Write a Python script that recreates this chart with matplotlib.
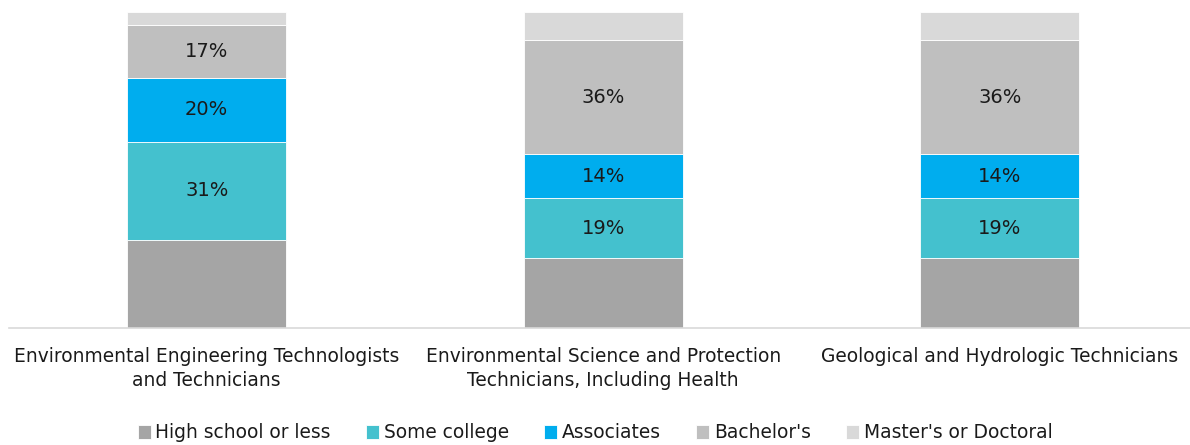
import matplotlib
matplotlib.use("Agg")
import matplotlib.pyplot as plt
import numpy as np

categories = ["Environmental Engineering Technologists\nand Technicians",
              "Environmental Science and Protection\nTechnicians, Including Health",
              "Geological and Hydrologic Technicians"]
series_names = ["High school or less", "Some college", "Associates", "Bachelor's", "Master's or Doctoral"]
high_school = [28, 22, 22]
some_college = [31, 19, 19]
associates = [20, 14, 14]
bachelors = [17, 36, 36]
masters = [4, 9, 9]
colors = ["#A5A5A5", "#44C1CE", "#00ADEE", "#BFBFBF", "#D9D9D9"]
show_labels = [False, True, True, True, False]

plt.rcParams['font.family'] = ['DejaVu Sans']
fig = plt.figure(figsize=(11.9, 4.45), dpi=100)
W, H = 1190, 445
ax = fig.add_axes([8.5 / W, (H - 328) / H, (W - 8.5) / W, (328 - 12) / H])

x = np.arange(len(categories))
series = [high_school, some_college, associates, bachelors, masters]
bottom = np.zeros(len(categories))
for name, vals, col, show in zip(series_names, series, colors, show_labels):
    vals = np.array(vals, dtype=float)
    ax.bar(x, vals, width=0.4, bottom=bottom, color=col, label=name,
           edgecolor="white", linewidth=0.6)
    if show:
        for xi, b, v in zip(x, bottom, vals):
            ax.text(xi, b + v / 2, f"{v:.0f}%", ha="center", va="center",
                    fontsize=14, color="#1a1a1a")
    bottom += vals

ax.set_ylim(0, 100)
ax.set_xlim(-0.5, -0.5 + (W - 8.5) / 396.5)
ax.set_yticks([])
ax.set_xticks(x)
ax.set_xticklabels(categories, fontsize=13.4, color="#1a1a1a", linespacing=1.3)
ax.tick_params(axis="x", length=0, pad=14)
for s in ["top", "right", "left"]:
    ax.spines[s].set_visible(False)
ax.spines["bottom"].set_color("#D9D9D9")
ax.spines["bottom"].set_linewidth(1.2)

fig.legend(loc="center", bbox_to_anchor=(0.5, (H - 433) / H), ncol=5, frameon=False,
           fontsize=13.4, handlelength=0.7, handleheight=0.7, handletextpad=0.25,
           columnspacing=1.9, labelcolor="#1a1a1a")
fig.savefig("out.png", dpi=100)
